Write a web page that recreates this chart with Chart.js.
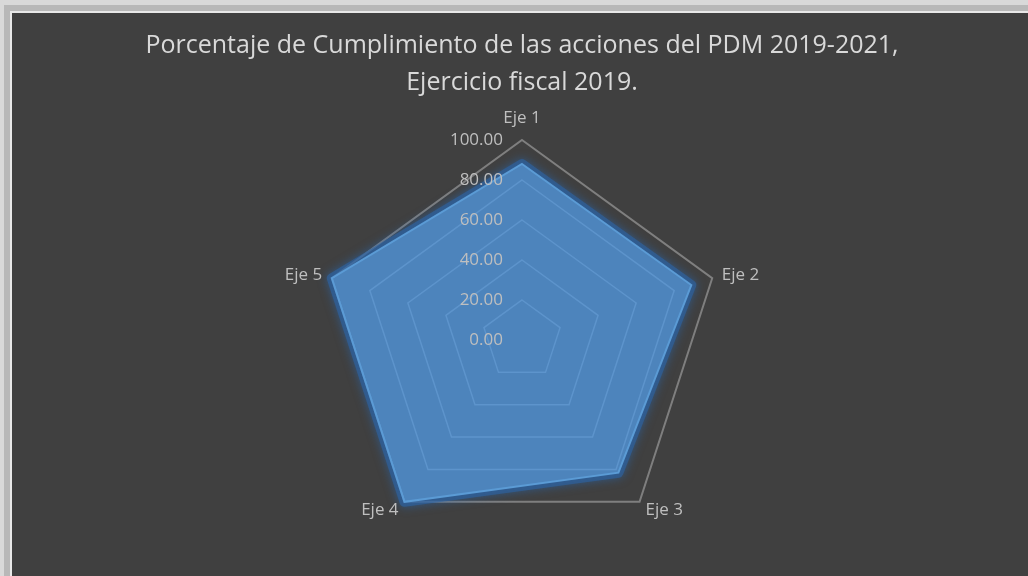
<!DOCTYPE html>
<html>
<head>
<meta charset="utf-8">
<script src="https://cdn.jsdelivr.net/npm/chart.js@4"></script>
<style>
  html, body { margin: 0; overflow: hidden; background: #404040; }
  body { width: 1028px; height: 576px; position: relative; }
  #marcoA { position: absolute; left: 0; top: 0; width: 1100px; height: 5px; background: #d9d9d9; }
  #marcoB { position: absolute; left: 0; top: 0; width: 4px; height: 600px; background: #d9d9d9; }
  #box {
    position: absolute; left: 12px; top: 13px; width: 1100px; height: 600px;
    background: #404040;
    box-shadow: 0 0 0 2px #e8e8e8, 0 0 0 8px #b8b8b8;
  }
  #inner { position: absolute; left: 0; top: 0; width: 1016px; height: 563px; }
</style>
</head>
<body>
<div id="marcoA"></div><div id="marcoB"></div>
<div id="box"><div id="inner"><canvas id="radarChart"></canvas></div></div>
<script>
const ejes = ['Eje 1', 'Eje 2', 'Eje 3', 'Eje 4', 'Eje 5'];
const cumplimiento = [88, 89, 82, 100, 100];
const tituloLineas = ['Porcentaje de Cumplimiento de las acciones del PDM 2019-2021,', 'Ejercicio fiscal 2019.'];

// glow around the series, like the Excel effect: soft stroke outside the polygon only
const glow = {
    id: 'glow',
    beforeDatasetDraw(chart, args) {
        const pts = args.meta.data;
        const ctx = chart.ctx;
        const poly = () => {
            pts.forEach((p, i) => i === 0 ? ctx.moveTo(p.x, p.y) : ctx.lineTo(p.x, p.y));
            ctx.closePath();
        };
        ctx.save();
        ctx.beginPath();
        ctx.rect(0, 0, chart.width, chart.height);
        poly();
        ctx.clip('evenodd');
        ctx.beginPath();
        poly();
        ctx.lineJoin = 'round';
        ctx.shadowColor = 'rgba(40, 105, 180, 1)';
        ctx.shadowBlur = 10;
        ctx.strokeStyle = 'rgba(45, 100, 165, 0.6)';
        ctx.lineWidth = 10;
        ctx.stroke();
        ctx.restore();
    },
};

// tick labels sit left of the vertical axis, point labels drawn by hand
const etiquetas = {
    id: 'etiquetas',
    afterDraw(chart) {
        const r = chart.scales.r;
        const ctx = chart.ctx;
        ctx.save();
        ctx.font = '17px "Open Sans"';
        ctx.fillStyle = '#bfbfbf';
        ctx.textAlign = 'right';
        ctx.textBaseline = 'middle';
        r.ticks.forEach(t => {
            const d = r.getDistanceFromCenterForValue(t.value);
            ctx.fillText(t.value.toFixed(2), r.xCenter - 19, r.yCenter - d);
        });
        ejes.forEach((lbl, i) => {
            const d = r.drawingArea + (i === 0 ? 22 : 10);
            const p = r.getPointPosition(i, d);
            const dx = p.x - r.xCenter;
            ctx.textAlign = Math.abs(dx) < 1 ? 'center' : (dx > 0 ? 'left' : 'right');
            ctx.fillText(lbl, p.x, p.y);
        });
        ctx.restore();
    },
};

new Chart(document.getElementById('radarChart'), {
    type: 'radar',
    data: {
        labels: ejes,
        datasets: [
            {
                label: 'Cumplimiento',
                data: cumplimiento,
                backgroundColor: 'rgba(82, 155, 230, 0.75)',
                borderColor: '#5b9bd5',
                borderWidth: 2,
                pointRadius: 0,
                fill: true,
            },
        ],
    },
    options: {
        responsive: true,
        maintainAspectRatio: false,
        animation: false,
        layout: {
            padding: { left: 110, right: 106, top: 0, bottom: 36 },
        },
        plugins: {
            legend: { display: false },
            tooltip: { enabled: false },
            title: {
                display: true,
                text: tituloLineas,
                color: '#d9d9d9',
                font: { size: 25, family: '"Open Sans"', weight: 'normal', lineHeight: 1.45 },
                padding: { top: 15, bottom: 39.5 },
            },
        },
        scales: {
            r: {
                min: 0,
                max: 100,
                ticks: { display: false, stepSize: 20 },
                angleLines: { display: false },
                pointLabels: { display: false },
                grid: {
                    color: '#7f7f7f',
                    lineWidth: ctx => ctx.tick.value === 100 ? 2 : 1.5,
                },
            },
        },
    },
    plugins: [glow, etiquetas],
});
</script>
</body>
</html>
